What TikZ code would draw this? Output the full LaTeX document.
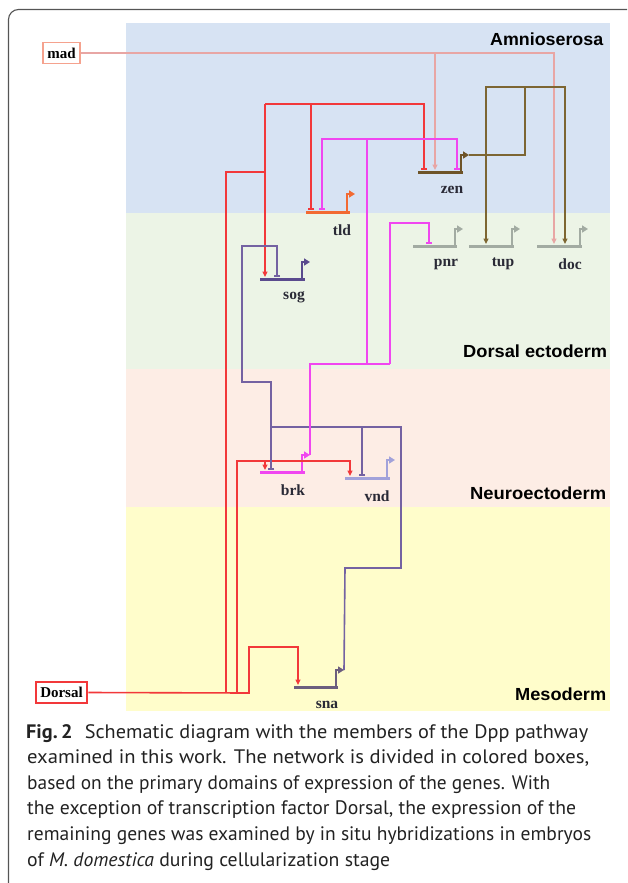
\documentclass[tikz,border=0pt]{standalone}
\usepackage{fontspec}
\usepackage{graphicx}
\setmainfont{Liberation Serif}
\newfontfamily\capfont{PT Sans}
\newfontfamily\labfont{Liberation Sans}
\usetikzlibrary{arrows.meta}
\definecolor{bblue}{HTML}{D7E3F3}
\definecolor{bgreen}{HTML}{ECF4E6}
\definecolor{bpink}{HTML}{FDEDE5}
\definecolor{byellow}{HTML}{FFFDCB}
\definecolor{redc}{HTML}{F2383A}
\definecolor{madc}{HTML}{E8A6A4}
\definecolor{madbox}{HTML}{F5A28E}
\definecolor{magc}{HTML}{F046F0}
\definecolor{purpc}{HTML}{7462A2}
\definecolor{sogc}{HTML}{5A4A8E}
\definecolor{snac}{HTML}{6C5E7E}
\definecolor{brownc}{HTML}{7D6632}
\definecolor{zenc}{HTML}{6E5428}
\definecolor{tldc}{HTML}{F26A32}
\definecolor{greyc}{HTML}{A2ABA2}
\definecolor{vndc}{HTML}{A2A2DA}
\definecolor{labc}{HTML}{2A2A36}
\definecolor{framec}{HTML}{555555}
\definecolor{capc}{HTML}{222222}
\tikzset{
  conn/.style={line width=1.6pt},
  act/.style={-{Triangle[length=5.5pt,width=5pt]}},
  rep/.style={-{Bar[width=6pt,line width=1.6pt]}},
  genel/.style={line width=3pt},
  glabel/.style={font=\bfseries\fontsize{15.5}{15.5}\selectfont, text=labc, inner sep=0pt},
  bandlabel/.style={font=\labfont\bfseries\fontsize{17.5}{17.5}\selectfont, anchor=base west, inner sep=0pt},
  capline/.style={font=\capfont\fontsize{19.5}{19.5}\selectfont, text=capc, anchor=base west, inner sep=0pt},
  regbox/.style={line width=1.8pt, inner sep=0pt, font=\bfseries\fontsize{15}{15}\selectfont},
}
\newcommand\fitline[2]{\resizebox{#1pt}{\height}{#2}}
% name, x1, x2, y, vertical x, top y, colour, label x
\newcommand\genedraw[8]{%
  \coordinate (#1-tip) at (#5+8,#6);
  \draw[genel,#7] (#2,#4) -- (#3,#4);
  \draw[line width=2pt,#7,-{Triangle[length=6pt,width=7pt]}] (#5,#4) -- (#5,#6) -- (#1-tip);
  \node[glabel] (#1) at (#8,#4+18) {#1};
}
\begin{document}
\begin{tikzpicture}[x=1pt,y=-1pt]
\useasboundingbox (0,0) rectangle (627,883);
% frame
\begin{scope}
\clip (0,0) rectangle (627,883);
\draw[framec, line width=1.1pt, rounded corners=10pt] (8.5,9.5) rectangle (660,905);
\end{scope}
% bands
\fill[bblue] (126,23) rectangle (610,213);
\fill[bgreen] (126,213) rectangle (610,369);
\fill[bpink] (126,369) rectangle (610,507);
\fill[byellow] (126,507) rectangle (610,711);
\node[bandlabel] (amn) at (490,46) {\fitline{113}{Amnioserosa}};
\node[bandlabel] (dect) at (463,357) {\fitline{144}{Dorsal ectoderm}};
\node[bandlabel] (nect) at (470,499) {\fitline{136}{Neuroectoderm}};
\node[bandlabel] (meso) at (515,700) {\fitline{91}{Mesoderm}};
% regulators
\node[regbox, draw=madbox, fill=white, minimum width=37pt, minimum height=21pt] (mad) at (61.5,53) {mad};
\node[regbox, draw=redc, line width=2.6pt, fill=white, minimum width=51pt, minimum height=21pt] (dorsal) at (61.5,692.5) {Dorsal};
% genes
\genedraw{zen}{418}{463}{172}{461}{155}{zenc}{452}
\genedraw{tld}{306}{350}{212}{347}{194}{tldc}{342}
\genedraw{sog}{260}{305}{279}{302}{262}{sogc}{294}
\genedraw{pnr}{413}{457}{246}{455}{229}{greyc}{446}
\genedraw{tup}{469}{514}{246}{512}{229}{greyc}{503}
\genedraw{doc}{537}{582}{246}{580}{229}{greyc}{570}
\genedraw{brk}{260}{305}{472}{302}{455}{magc}{293}
\genedraw{vnd}{345}{390}{478}{387}{460}{vndc}{377}
\genedraw{sna}{294}{338}{687}{336}{670}{snac}{327}
% mad connectors
\draw[conn,madc,act] (mad.east) -- (554,53) -- (554,244);
\draw[conn,madc,act] (435,53) -- (435,170);
% Dorsal connectors
\draw[conn,redc,act] (dorsal.east) -- (249,693) -- (249,647) -- (298,647) -- (298,685);
\draw[conn,redc] (226,693) -- (226,172) -- (265,172);
\draw[conn,redc,act] (265,104) -- (265,277);
\draw[conn,redc,rep] (265,104) -- (424,104) -- (424,170);
\draw[conn,redc,rep] (311,104) -- (311,210);
\draw[conn,redc,act] (237,693) -- (237,461) -- (350,461) -- (350,476);
\draw[conn,redc,act] (265,461) -- (265,470);
% sna connectors
\draw[conn,purpc] (sna-tip) -- (345,568) -- (401,568) -- (401,427) -- (271,427);
\draw[conn,purpc,rep] (362,427) -- (362,476);
\draw[conn,purpc,rep] (271,427) -- (271,470);
\draw[conn,purpc,rep] (271,427) -- (271,382) -- (242,382) -- (242,246) -- (277,246) -- (277,277);
% brk connectors
\draw[conn,magc] (brk-tip) -- (310,364) -- (390,364);
\draw[conn,magc,rep] (390,364) -- (390,223) -- (429,223) -- (429,244);
\draw[conn,magc] (367,364) -- (367,139);
\draw[conn,magc,rep] (367,139) -- (322,139) -- (322,210);
\draw[conn,magc,rep] (367,139) -- (457,139) -- (457,170);
% zen connectors
\draw[conn,brownc] (zen-tip) -- (525,155) -- (525,87);
\draw[conn,brownc,act] (525,87) -- (486,87) -- (486,244);
\draw[conn,brownc,act] (525,87) -- (565,87) -- (565,244);
% caption
\node[capline] (c1) at (26,738) {\fitline{562}{\textbf{Fig.\,2}\hspace{0.6em}Schematic diagram with the members of the Dpp pathway}};
\node[capline] (c2) at (27,763.6) {\fitline{562}{examined in this work. The network is divided in colored boxes,}};
\node[capline] (c3) at (27,789.2) {\fitline{523}{based on the primary domains of expression of the genes. With}};
\node[capline] (c4) at (27,814.8) {\fitline{549}{the exception of transcription factor Dorsal, the expression of the}};
\node[capline] (c5) at (27,840.4) {\fitline{564}{remaining genes was examined by in situ hybridizations in embryos}};
\node[capline] (c6) at (27,866) {\fitline{363}{of \textit{M. domestica} during cellularization stage}};
\end{tikzpicture}
\end{document}
